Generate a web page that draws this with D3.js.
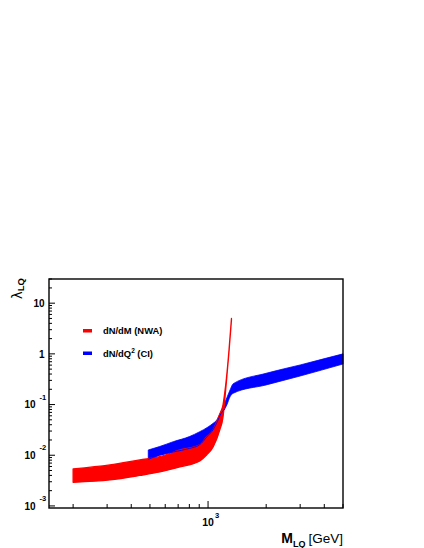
<!DOCTYPE html>
<html>
<head>
<meta charset="utf-8">
<script src="https://cdn.jsdelivr.net/npm/d3@7"></script>
<style>
  body { margin: 0; background: white; }
  text { font-family: "Liberation Sans", Arial, sans-serif; }
</style>
</head>
<body>
<div id="chart"></div>
<script>
// band for dN/dM (NWA)
var nwaMass  = [200, 310, 443, 562, 714, 906, 982, 1062, 1150, 1196, 1220, 1245, 1285, 1322]
var nwaLower = [0.00293, 0.00326, 0.0040, 0.00469, 0.00588, 0.00772, 0.0101, 0.0146, 0.0316, 0.058, 0.12, 0.29, 1.15, 4.7]
var nwaUpper = [0.00537, 0.00644, 0.00807, 0.00937, 0.0127, 0.016, 0.023, 0.0316, 0.0653, 0.1, 0.17, 0.33, 1.25, 5.0]

// band for dN/dQ2 (CI)
var ciMass  = [490, 560, 660, 800, 900, 1000, 1060, 1110, 1170, 1220, 1250, 1300, 1350, 2000, 3000, 5000]
var ciLower = [0.0083, 0.01, 0.0116, 0.0136, 0.0159, 0.0245, 0.0316, 0.0438, 0.0673, 0.0818, 0.098, 0.143, 0.167, 0.244, 0.366, 0.632]
var ciUpper = [0.0127, 0.0148, 0.0185, 0.0233, 0.0288, 0.0361, 0.0424, 0.0497, 0.0748, 0.1075, 0.135, 0.194, 0.258, 0.414, 0.604, 1.0]

var yLabels = [{v: 1e-3, b: "10", e: "-3"}, {v: 1e-2, b: "10", e: "-2"}, {v: 1e-1, b: "10", e: "-1"},
               {v: 1, b: "1", e: ""}, {v: 10, b: "10", e: ""}]
var xLabels = [{v: 1000, b: "10", e: "3"}]
var legendKeys = ["dN/dM (NWA)", "dN/dQ2 (CI)"]

var W = 424, H = 548
var frameL = 49, frameR = 343, frameT = 279, frameB = 508

var svg = d3.select("#chart").append("svg")
    .attr("width", W).attr("height", H)

var x = d3.scaleLog().domain([150, 5000]).range([frameL, frameR])
var y = d3.scaleLog().domain([9.1e-4, 30]).range([frameB, frameT])

var nwa = nwaMass.map(function(m, i){ return {m: m, lo: nwaLower[i], hi: nwaUpper[i]} })
var ci = ciMass.map(function(m, i){ return {m: m, lo: ciLower[i], hi: ciUpper[i]} })

var area = d3.area()
    .curve(d3.curveMonotoneX)
    .x(function(d){ return x(d.m) })
    .y0(function(d){ return y(d.lo) })
    .y1(function(d){ return y(d.hi) })

// blue band first, red goes over it
svg.append("path")
    .datum(ci)
    .attr("d", area)
    .attr("fill", "#0000ff")
    .attr("stroke", "#0000ff")
    .attr("stroke-width", 0.8)

svg.append("path")
    .datum(nwa)
    .attr("d", area)
    .attr("fill", "#ff0000")
    .attr("stroke", "#ff0000")
    .attr("stroke-width", 1.3)
    .attr("stroke-linejoin", "round")

// thin blue edge visible through the red band
svg.append("path")
    .datum(ci.filter(function(d){ return d.m <= 1220 }))
    .attr("fill", "none")
    .attr("stroke", "#0000ff")
    .attr("stroke-width", 0.9)
    .attr("d", d3.line()
        .curve(d3.curveMonotoneX)
        .x(function(d){ return x(d.m) })
        .y(function(d){ return y(d.lo) }))

// frame
svg.append("rect")
    .attr("x", frameL).attr("y", frameT)
    .attr("width", frameR - frameL).attr("height", frameB - frameT)
    .attr("fill", "none")
    .attr("stroke", "#000")
    .attr("stroke-width", 1.4)

// y ticks (inside the frame)
var yTicks = []
for (var k = -4; k <= 1; k++) {
    for (var j = 1; j <= 9; j++) {
        var v = j * Math.pow(10, k)
        if (v >= 9.1e-4 && v <= 30) yTicks.push({v: v, major: j == 1})
    }
}
svg.append("g").selectAll("line")
    .data(yTicks)
    .enter().append("line")
    .attr("x1", frameL).attr("x2", function(d){ return frameL + (d.major ? 6 : 3) })
    .attr("y1", function(d){ return y(d.v) }).attr("y2", function(d){ return y(d.v) })
    .attr("stroke", "#000").attr("stroke-width", 1)

// x ticks
var xTicks = []
for (var k = 2; k <= 3; k++) {
    for (var j = 1; j <= 9; j++) {
        var v = j * Math.pow(10, k)
        if (v >= 150 && v <= 5000) xTicks.push({v: v, major: j == 1})
    }
}
svg.append("g").selectAll("line")
    .data(xTicks)
    .enter().append("line")
    .attr("x1", function(d){ return x(d.v) }).attr("x2", function(d){ return x(d.v) })
    .attr("y1", frameB).attr("y2", function(d){ return frameB - (d.major ? 7 : 4) })
    .attr("stroke", "#000").attr("stroke-width", 1)

// y labels
yLabels.forEach(function(d){
    var py = y(d.v)
    if (d.e) {
        svg.append("text").attr("x", 35.5).attr("y", py + 3.8)
            .attr("text-anchor", "end").style("font-size", "10px").style("font-weight", "bold")
            .text(d.b)
        svg.append("text").attr("x", 39.5).attr("y", py - 5)
            .style("font-size", "7.5px").style("font-weight", "bold")
            .text(d.e)
    } else {
        svg.append("text").attr("x", 44.5).attr("y", py + 3.8)
            .attr("text-anchor", "end").style("font-size", "10px").style("font-weight", "bold")
            .text(d.b)
    }
})

// x labels
xLabels.forEach(function(d){
    var px = x(d.v)
    svg.append("text").attr("x", px).attr("y", 525.5)
        .attr("text-anchor", "middle").style("font-size", "10.5px").style("font-weight", "bold")
        .text(d.b)
    svg.append("text").attr("x", px + 7).attr("y", 518)
        .style("font-size", "7.5px").style("font-weight", "bold")
        .text(d.e)
})

// axis titles
var xt = svg.append("text").attr("x", frameR).attr("y", 542.5).attr("text-anchor", "end")
xt.append("tspan").style("font-size", "14px").style("font-weight", "bold").text("M")
xt.append("tspan").attr("dy", 4).style("font-size", "9px").style("font-weight", "bold").text("LQ")
xt.append("tspan").attr("dy", -4).attr("dx", 3).style("font-size", "13.5px").text("[GeV]")

var yt = svg.append("text")
    .attr("transform", "translate(22,278) rotate(-90)")
    .attr("text-anchor", "end")
yt.append("tspan").style("font-size", "13.5px").style("font-family", "DejaVu Sans").text("\u03bb")
yt.append("tspan").attr("dy", 2).style("font-size", "9.5px").style("font-weight", "bold").text("LQ")

// legend
var legColor = d3.scaleOrdinal().domain(legendKeys).range(["#ff0000", "#0000ff"])
svg.selectAll("legrect")
    .data(legendKeys)
    .enter().append("rect")
    .attr("x", 83).attr("y", function(d, i){ return 329 + i * 22.5 })
    .attr("width", 9).attr("height", 3.5)
    .attr("fill", function(d){ return legColor(d) })

svg.append("text").attr("x", 103).attr("y", 334)
    .style("font-size", "9.4px").style("font-weight", "bold")
    .text(legendKeys[0])
var l2 = svg.append("text").attr("x", 103).attr("y", 356.5)
    .style("font-size", "9.4px").style("font-weight", "bold")
l2.append("tspan").text("dN/dQ")
l2.append("tspan").attr("dy", -4).style("font-size", "6.5px").text("2")
l2.append("tspan").attr("dy", 4).text(" (CI)")
</script>
</body>
</html>
